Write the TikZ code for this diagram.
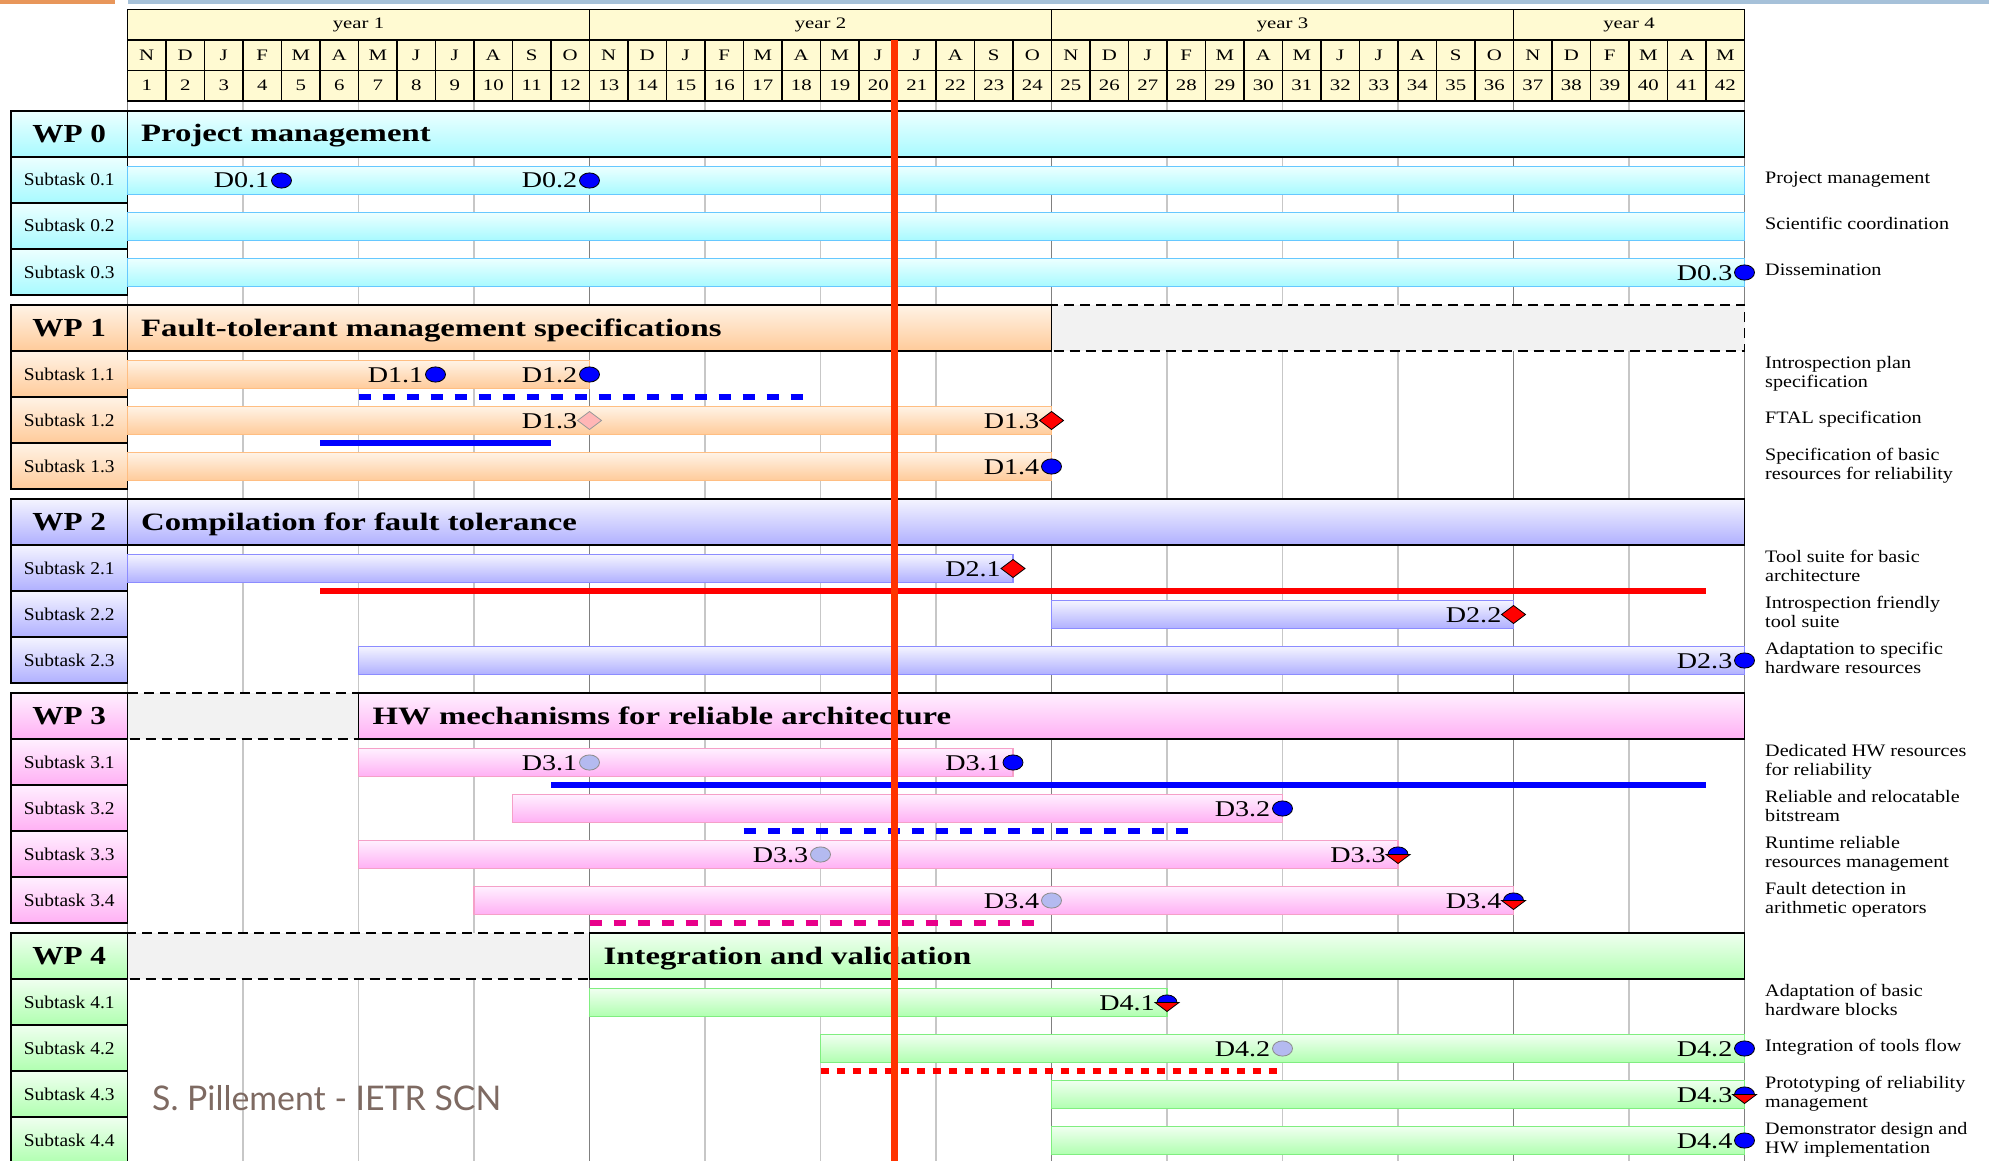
\documentclass[tikz,border=0pt]{standalone}
\usepackage{fontspec}
\setmainfont{Liberation Serif}
\setsansfont{Lato}
\usepackage{graphicx}
\definecolor{hdrfill}{HTML}{FFFAD2}
\definecolor{cyL}{HTML}{ECFFFF}
\definecolor{cyD}{HTML}{A8FAFF}
\definecolor{cyB}{HTML}{66C8FF}
\definecolor{orL}{HTML}{FFF3E6}
\definecolor{orD}{HTML}{FFCB9A}
\definecolor{orB}{HTML}{FFBE82}
\definecolor{lvL}{HTML}{F4F4FF}
\definecolor{lvD}{HTML}{B0B0FF}
\definecolor{lvB}{HTML}{8C8CFF}
\definecolor{pkL}{HTML}{FFF0FF}
\definecolor{pkD}{HTML}{FFB0F4}
\definecolor{pkB}{HTML}{F5A0C8}
\definecolor{grL}{HTML}{F0FFF0}
\definecolor{grD}{HTML}{B0FFB0}
\definecolor{grB}{HTML}{80EE80}
\definecolor{dblue}{HTML}{0000FF}
\definecolor{lcirc}{HTML}{B4BAF0}
\definecolor{ldiam}{HTML}{FFB6B6}
\definecolor{todayc}{HTML}{FF3300}
\definecolor{mag}{HTML}{E8008A}
\definecolor{topor}{HTML}{E8965A}
\definecolor{topbl}{HTML}{A6C1D9}
\definecolor{inactf}{HTML}{F2F2F2}
\definecolor{sig}{HTML}{7E6A62}
\newcommand\hsx[2]{\scalebox{#1}[1]{#2}}
\newcommand\mX[1]{127.5+38.5*(#1)}
\newcommand\tbar[4]{\path[#4] ({\mX{#2}},#1+9.5) rectangle ({\mX{#3}},#1+37.5);}
\newcommand\dlabel[4]{\node[dlab] (#1) at ({\mX{#2}-12},#3+31) {\hsx{1.25}{#4}};}
\newcommand\mcirc[5]{\path[#5] ({\mX{#2}},#3+23.5) ellipse [x radius=10pt, y radius=7.6pt];\dlabel{#1}{#2}{#3}{#4}}
\newcommand\mdiam[5]{\path[#5] ({\mX{#2}-12},#3+23.5) -- ++(12,-9) -- ++(12,9) -- ++(-12,9) -- cycle;\dlabel{#1}{#2}{#3}{#4}}
\newcommand\mhalf[4]{%
 \path[fill=red,draw=black,line width=0.8pt] ({\mX{#2}-12},#3+23.5) -- ++(24,0) -- ++(-12,9) -- cycle;
 \path[fill=dblue,draw=black,line width=0.8pt] ({\mX{#2}-10},#3+23.5) arc[start angle=180,end angle=0,x radius=10pt,y radius=7.6pt] -- cycle;
 \dlabel{#1}{#2}{#3}{#4}}
\newcommand\rl[3]{\node[rlab] (#1) at (1765,#2+23) {\hsx{1.15}{\begin{tabular}{@{}l@{}}#3\end{tabular}}};}
\newcommand\sublbl[4]{\path[box,#4] (11,#2) rectangle (127.5,#2+46);
 \node[stl] (#1) at (69.25,#2+29) {\hsx{1.08}{#3}};}
\begin{document}
\begin{tikzpicture}[x=1pt,y=-1pt,
  hdr/.style={draw=black,line width=1.3pt,fill=hdrfill},
  htxt/.style={inner sep=0pt,anchor=base,font=\fontsize{16}{18}\selectfont},
  gridmin/.style={draw=black!22,line width=1.4pt},
  gridmaj/.style={draw=black!50,line width=1.4pt},
  box/.style={draw=black,line width=1.6pt},
  wplbl/.style={inner sep=0pt,anchor=base,font=\fontsize{26}{28}\selectfont\bfseries},
  ttl/.style={inner sep=0pt,anchor=base west,font=\fontsize{25}{27}\selectfont\bfseries},
  stl/.style={inner sep=0pt,anchor=base,font=\fontsize{18}{20}\selectfont},
  rlab/.style={inner sep=0pt,anchor=west,font=\fontsize{17.5}{19.5}\selectfont},
  dlab/.style={inner sep=0pt,anchor=base east,font=\fontsize{22.5}{24}\selectfont},
  inact/.style={draw=black,line width=1.4pt,dash pattern=on 10pt off 6pt,fill=inactf},
  g0/.style={top color=cyL,bottom color=cyD},
  g1/.style={top color=orL,bottom color=orD},
  g2/.style={top color=lvL,bottom color=lvD},
  g3/.style={top color=pkL,bottom color=pkD},
  g4/.style={top color=grL,bottom color=grD},
  b0/.style={draw=cyB,line width=1.4pt,g0},
  b1/.style={draw=orB,line width=1.4pt,g1},
  b2/.style={draw=lvB,line width=1.4pt,g2},
  b3/.style={draw=pkB,line width=1.4pt,g3},
  b4/.style={draw=grB,line width=1.4pt,g4},
  mblue/.style={draw=black,line width=0.8pt,fill=dblue},
  mlight/.style={draw=black!45,line width=0.8pt,fill=lcirc},
  mred/.style={draw=black,line width=0.8pt,fill=red},
  mlightd/.style={draw=black!40,line width=0.8pt,fill=ldiam},
  lsolid/.style={line width=6pt},
  ldash/.style={line width=6pt,dash pattern=on 12pt off 12pt},
  lsmall/.style={line width=6pt,dash pattern=on 8pt off 8pt},
]
\useasboundingbox (0,0) rectangle (1989,1161);
\fill[white] (0,0) rectangle (1989,1161);
% top decoration bars
\fill[topor] (0,0) rectangle (115,4.5);
\fill[topbl] (128,0) rectangle (1989,4.5);
% grid
\foreach \m in {3,6,9,15,18,21,27,30,33,39}{\draw[gridmin] ({\mX{\m}},101) -- ({\mX{\m}},1161);}
\foreach \m in {0,12,24,36,42}{\draw[gridmaj] ({\mX{\m}},101) -- ({\mX{\m}},1161);}
% header
\foreach \a/\b/\t in {0/12/year 1,12/24/year 2,24/36/year 3,36/42/year 4}{
  \draw[hdr] ({\mX{\a}},9.5) rectangle ({\mX{\b}},40);
  \node[htxt] (yr\a) at ({\mX{(\a+\b)/2}},29) {\hsx{1.3}{\t}};}
\foreach \l [count=\i from 0] in {N,D,J,F,M,A,M,J,J,A,S,O,N,D,J,F,M,A,M,J,J,A,S,O,N,D,J,F,M,A,M,J,J,A,S,O,N,D,F,M,A,M}{
  \draw[hdr] ({\mX{\i}},40) rectangle ({\mX{\i+1}},70.5);
  \node[htxt] (mo\i) at ({\mX{\i+0.5}},60.5) {\hsx{1.3}{\l}};
  \draw[hdr] ({\mX{\i}},70.5) rectangle ({\mX{\i+1}},101);
  \pgfmathtruncatemacro\n{\i+1}
  \node[htxt] (nu\i) at ({\mX{\i+0.5}},91) {\hsx{1.3}{\n}};}
% ---------- WP 0
\path[box,g0] (11,111) rectangle (127.5,157);
\node[wplbl] (wp0) at (69.25,142.5) {\hsx{1.2}{WP 0}};
\path[box,g0] (127.5,111) rectangle ({\mX{42}},157);
\node[ttl] (t0) at (141,142) {\hsx{1.31}{Project management}};
\sublbl{s01}{157}{Subtask 0.1}{g0}
\sublbl{s02}{203}{Subtask 0.2}{g0}
\sublbl{s03}{249}{Subtask 0.3}{g0}
\tbar{157}{0}{42}{b0}
\tbar{203}{0}{42}{b0}
\tbar{249}{0}{42}{b0}
% ---------- WP 1
\path[inact] ({\mX{24}},305) rectangle ({\mX{42}},351);
\path[box,g1] (11,305) rectangle (127.5,351);
\node[wplbl] (wp1) at (69.25,336.5) {\hsx{1.2}{WP 1}};
\path[box,g1] (127.5,305) rectangle ({\mX{24}},351);
\node[ttl] (t1) at (141,336) {\hsx{1.31}{Fault-tolerant management specifications}};
\sublbl{s11}{351}{Subtask 1.1}{g1}
\sublbl{s12}{397}{Subtask 1.2}{g1}
\sublbl{s13}{443}{Subtask 1.3}{g1}
\tbar{351}{0}{12}{b1}
\tbar{397}{0}{24}{b1}
\tbar{443}{0}{24}{b1}
% ---------- WP 2
\path[box,g2] (11,499) rectangle (127.5,545);
\node[wplbl] (wp2) at (69.25,530.5) {\hsx{1.2}{WP 2}};
\path[box,g2] (127.5,499) rectangle ({\mX{42}},545);
\node[ttl] (t2) at (141,530) {\hsx{1.31}{Compilation for fault tolerance}};
\sublbl{s21}{545}{Subtask 2.1}{g2}
\sublbl{s22}{591}{Subtask 2.2}{g2}
\sublbl{s23}{637}{Subtask 2.3}{g2}
\tbar{545}{0}{23}{b2}
\tbar{591}{24}{36}{b2}
\tbar{637}{6}{42}{b2}
% ---------- WP 3
\path[inact] ({\mX{0}},693) rectangle ({\mX{6}},739);
\path[box,g3] (11,693) rectangle (127.5,739);
\node[wplbl] (wp3) at (69.25,724.5) {\hsx{1.2}{WP 3}};
\path[box,g3] ({\mX{6}},693) rectangle ({\mX{42}},739);
\node[ttl] (t3) at ({\mX{6}+14},724) {\hsx{1.31}{HW mechanisms for reliable architecture}};
\sublbl{s31}{739}{Subtask 3.1}{g3}
\sublbl{s32}{785}{Subtask 3.2}{g3}
\sublbl{s33}{831}{Subtask 3.3}{g3}
\sublbl{s34}{877}{Subtask 3.4}{g3}
\tbar{739}{6}{23}{b3}
\tbar{785}{10}{30}{b3}
\tbar{831}{6}{33}{b3}
\tbar{877}{9}{36}{b3}
% ---------- WP 4
\path[inact] ({\mX{0}},933) rectangle ({\mX{12}},979);
\path[box,g4] (11,933) rectangle (127.5,979);
\node[wplbl] (wp4) at (69.25,964.5) {\hsx{1.2}{WP 4}};
\path[box,g4] ({\mX{12}},933) rectangle ({\mX{42}},979);
\node[ttl] (t4) at ({\mX{12}+14},964) {\hsx{1.31}{Integration and validation}};
\sublbl{s41}{979}{Subtask 4.1}{g4}
\sublbl{s42}{1025}{Subtask 4.2}{g4}
\sublbl{s43}{1071}{Subtask 4.3}{g4}
\sublbl{s44}{1117}{Subtask 4.4}{g4}
\tbar{979}{12}{27}{b4}
\tbar{1025}{18}{42}{b4}
\tbar{1071}{24}{42}{b4}
\tbar{1117}{24}{42}{b4}
% ---------- dependency lines
\coordinate (la1) at ({\mX{6}},397);   \coordinate (lb1) at ({\mX{17.75}},397);
\coordinate (la2) at ({\mX{5}},443);   \coordinate (lb2) at ({\mX{11}},443);
\coordinate (la3) at ({\mX{5}},591);   \coordinate (lb3) at ({\mX{41}},591);
\coordinate (la4) at ({\mX{11}},785);  \coordinate (lb4) at ({\mX{41}},785);
\coordinate (la5) at ({\mX{16}},831);  \coordinate (lb5) at ({\mX{27.75}},831);
\coordinate (la6) at ({\mX{12}},923);  \coordinate (lb6) at ({\mX{23.75}},923);
\coordinate (la7) at ({\mX{18}},1071); \coordinate (lb7) at ({\mX{30}},1071);
\draw[ldash,dblue] (la1) -- (lb1);
\draw[lsolid,dblue] (la2) -- (lb2);
\draw[lsolid,red] (la3) -- (lb3);
\draw[lsolid,dblue] (la4) -- (lb4);
\draw[ldash,dblue] (la5) -- (lb5);
\draw[ldash,mag] (la6) -- (lb6);
\draw[lsmall,red] (la7) -- (lb7);
% ---------- deliverables
\mcirc{d01}{4}{157}{D0.1}{mblue}
\mcirc{d02}{12}{157}{D0.2}{mblue}
\mcirc{d03}{42}{249}{D0.3}{mblue}
\mcirc{d11}{8}{351}{D1.1}{mblue}
\mcirc{d12}{12}{351}{D1.2}{mblue}
\mdiam{d13a}{12}{397}{D1.3}{mlightd}
\mdiam{d13b}{24}{397}{D1.3}{mred}
\mcirc{d14}{24}{443}{D1.4}{mblue}
\mdiam{d21}{23}{545}{D2.1}{mred}
\mdiam{d22}{36}{591}{D2.2}{mred}
\mcirc{d23}{42}{637}{D2.3}{mblue}
\mcirc{d31a}{12}{739}{D3.1}{mlight}
\mcirc{d31b}{23}{739}{D3.1}{mblue}
\mcirc{d32}{30}{785}{D3.2}{mblue}
\mcirc{d33a}{18}{831}{D3.3}{mlight}
\mhalf{d33b}{33}{831}{D3.3}
\mcirc{d34a}{24}{877}{D3.4}{mlight}
\mhalf{d34b}{36}{877}{D3.4}
\mhalf{d41}{27}{979}{D4.1}
\mcirc{d42a}{30}{1025}{D4.2}{mlight}
\mcirc{d42b}{42}{1025}{D4.2}{mblue}
\mhalf{d43}{42}{1071}{D4.3}
\mcirc{d44}{42}{1117}{D4.4}{mblue}
% ---------- right labels
\rl{r01}{157}{Project management}
\rl{r02}{203}{Scientific coordination}
\rl{r03}{249}{Dissemination}
\rl{r11}{351}{Introspection plan\\specification}
\rl{r12}{397}{FTAL specification}
\rl{r13}{443}{Specification of basic\\resources for reliability}
\rl{r21}{545}{Tool suite for basic\\architecture}
\rl{r22}{591}{Introspection friendly\\tool suite}
\rl{r23}{637}{Adaptation to specific\\hardware resources}
\rl{r31}{739}{Dedicated HW resources\\for reliability}
\rl{r32}{785}{Reliable and relocatable\\bitstream}
\rl{r33}{831}{Runtime reliable\\resources management}
\rl{r34}{877}{Fault detection in\\arithmetic operators}
\rl{r41}{979}{Adaptation of basic\\hardware blocks}
\rl{r42}{1025}{Integration of tools flow}
\rl{r43}{1071}{Prototyping of reliability\\management}
\rl{r44}{1117}{Demonstrator design and\\HW implementation}
% ---------- signature
\node[inner sep=0pt,anchor=base west,text=sig] (sign) at (152,1110) {\resizebox{349pt}{25pt}{\sffamily S. Pillement - IETR SCN}};
% ---------- today line
\coordinate (tdA) at (894.5,40);
\coordinate (tdB) at (894.5,1161);
\draw[todayc,line width=7pt] (tdA) -- (tdB);
\end{tikzpicture}
\end{document}
